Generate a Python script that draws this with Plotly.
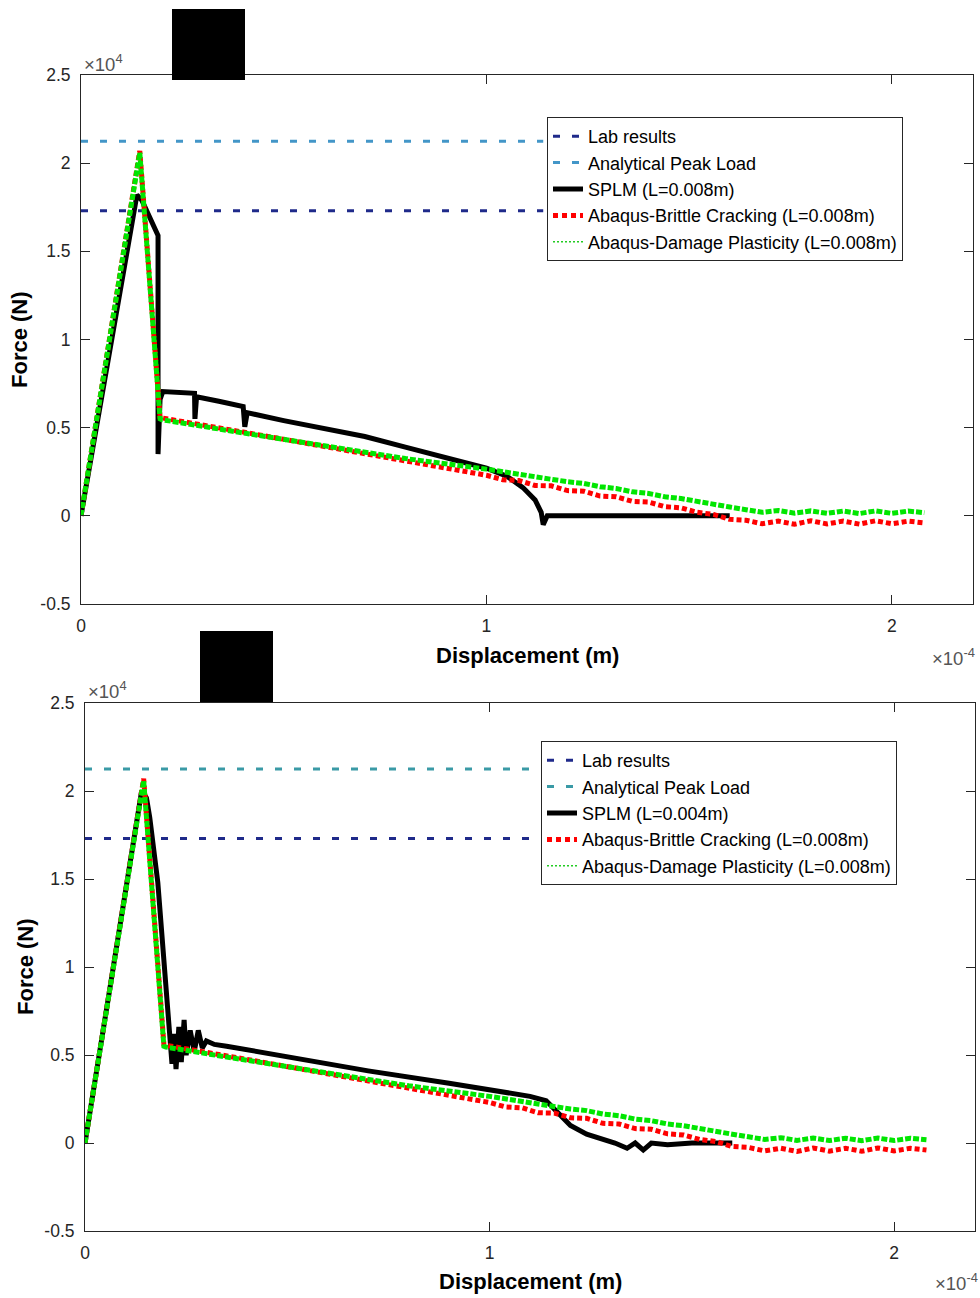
import plotly.graph_objects as go

W, H = 980, 1298

# ---------------- data (x in 1e-4 m, y in 1e4 N) ----------------
lab_load = 1.73            # Lab results peak (x10^4 N)
analytical_load = 2.125    # Analytical peak load (x10^4 N)
ref_line_end_top = 1.14
ref_line_end_bot = 1.12

# SPLM (L=0.008m) - top panel
splm8_x = [0, 0.138, 0.150, 0.163, 0.190, 0.190, 0.195, 0.202, 0.240, 0.280, 0.281, 0.285,
           0.340, 0.400, 0.404, 0.410, 0.500, 0.600, 0.700, 0.800, 0.900, 1.000, 1.050,
           1.090, 1.120, 1.135, 1.140, 1.145, 1.150, 1.300, 1.450, 1.600]
splm8_y = [0, 1.82, 1.79, 1.72, 1.59, 0.35, 0.66, 0.705, 0.700, 0.695, 0.55, 0.675,
           0.650, 0.620, 0.505, 0.585, 0.540, 0.495, 0.450, 0.390, 0.330, 0.270, 0.225,
           0.160, 0.090, 0.020, -0.05, -0.02, 0.0, 0.0, 0.0, 0.0]

# SPLM (L=0.004m) - bottom panel
splm4_x = [0, 0.140, 0.152, 0.160, 0.180, 0.200, 0.212, 0.215, 0.220, 0.225, 0.232, 0.238,
           0.245, 0.250, 0.260, 0.270, 0.280, 0.290, 0.300, 0.320, 0.350, 0.500, 0.700,
           0.900, 1.000, 1.100, 1.140, 1.170, 1.200, 1.240, 1.280, 1.310, 1.340, 1.360,
           1.380, 1.400, 1.440, 1.500, 1.600]
splm4_y = [0, 2.00, 1.96, 1.85, 1.48, 0.91, 0.58, 0.45, 0.62, 0.42, 0.66, 0.46,
           0.70, 0.50, 0.64, 0.52, 0.64, 0.54, 0.58, 0.56, 0.55, 0.49, 0.41,
           0.34, 0.30, 0.265, 0.24, 0.17, 0.10, 0.05, 0.02, 0.0, -0.03, 0.0,
           -0.04, 0.0, -0.01, 0.0, 0.0]

# Abaqus - Brittle Cracking (L=0.008m)
brittle_x = [0, 0.145, 0.195, 0.200, 0.400, 0.600, 0.800, 1.00, 1.04, 1.08, 1.12, 1.16, 1.20,
             1.24, 1.28, 1.32, 1.36, 1.40, 1.44, 1.48, 1.52, 1.56, 1.60, 1.64, 1.68, 1.72,
             1.76, 1.80, 1.84, 1.88, 1.92, 1.96, 2.00, 2.04, 2.08]
brittle_y = [0, 2.07, 0.56, 0.555, 0.475, 0.395, 0.315, 0.230, 0.205, 0.200, 0.172, 0.170, 0.143,
             0.140, 0.112, 0.108, 0.082, 0.078, 0.052, 0.045, 0.020, 0.008, -0.020, -0.025, -0.045, -0.030,
             -0.048, -0.028, -0.046, -0.030, -0.047, -0.028, -0.045, -0.030, -0.040]

# Abaqus - Damage Plasticity (L=0.008m)
damage_x = [0, 0.145, 0.195, 0.200, 0.400, 0.600, 0.800, 1.00, 1.04, 1.08, 1.12, 1.16, 1.20,
            1.24, 1.28, 1.32, 1.36, 1.40, 1.44, 1.48, 1.52, 1.56, 1.60, 1.64, 1.68, 1.72,
            1.76, 1.80, 1.84, 1.88, 1.92, 1.96, 2.00, 2.04, 2.08]
damage_y = [0, 2.06, 0.55, 0.545, 0.470, 0.395, 0.325, 0.265, 0.250, 0.240, 0.222, 0.212, 0.193,
            0.184, 0.165, 0.155, 0.136, 0.127, 0.108, 0.098, 0.080, 0.068, 0.050, 0.035, 0.020, 0.030,
            0.015, 0.028, 0.014, 0.027, 0.013, 0.028, 0.014, 0.027, 0.018]

x_ticks = [0, 1, 2]
x_tick_labels = ["0", "1", "2"]
y_ticks = [-0.5, 0, 0.5, 1, 1.5, 2, 2.5]
y_tick_labels = ["-0.5", "0", "0.5", "1", "1.5", "2", "2.5"]

legend_names_top = ["Lab results", "Analytical Peak Load", "SPLM (L=0.008m)",
                    "Abaqus-Brittle Cracking (L=0.008m)", "Abaqus-Damage Plasticity (L=0.008m)"]
legend_names_bot = ["Lab results", "Analytical Peak Load", "SPLM (L=0.004m)",
                    "Abaqus-Brittle Cracking (L=0.008m)", "Abaqus-Damage Plasticity (L=0.008m)"]

# ---------------- styling ----------------
FONT = "Liberation Sans, Arial, Helvetica, sans-serif"
AX = "#262626"
LAB_C = "#1f2a8a"
ANA_C_TOP = "#4396c8"
ANA_C_BOT = "#3a9aa6"
RED = "#ff0000"
GREEN = "#00e600"


def pxx(x):
    return x / W


def pyy(y):
    return 1 - y / H


fig = go.Figure()


def add_panel(xa, ya, legend_id, names, splm_x, splm_y, line_end, ana_color):
    common = dict(xaxis=xa, yaxis=ya, legend=legend_id, hoverinfo="skip")
    fig.add_trace(go.Scatter(x=[0, line_end], y=[lab_load, lab_load], mode="lines",
                             line=dict(color=LAB_C, width=3, dash="7px,12px"),
                             name=names[0], **common))
    fig.add_trace(go.Scatter(x=[0, line_end], y=[analytical_load, analytical_load], mode="lines",
                             line=dict(color=ana_color, width=3, dash="7px,12px"),
                             name=names[1], **common))
    fig.add_trace(go.Scatter(x=splm_x, y=splm_y, mode="lines",
                             line=dict(color="black", width=5),
                             name=names[2], **common))
    fig.add_trace(go.Scatter(x=brittle_x, y=brittle_y, mode="lines",
                             line=dict(color=RED, width=5, dash="5px,3px"),
                             showlegend=False, **common))
    fig.add_trace(go.Scatter(x=damage_x, y=damage_y, mode="lines",
                             line=dict(color=GREEN, width=5, dash="6px,2px"),
                             showlegend=False, **common))
    fig.add_trace(go.Scatter(x=[None], y=[None], mode="lines",
                             line=dict(color=RED, width=5, dash="5px,4px"),
                             name=names[3], **common))
    fig.add_trace(go.Scatter(x=[None], y=[None], mode="lines",
                             line=dict(color="#22cc22", width=1.5, dash="2px,2px"),
                             name=names[4], **common))


add_panel("x", "y", "legend", legend_names_top, splm8_x, splm8_y, ref_line_end_top, ANA_C_TOP)
add_panel("x2", "y2", "legend2", legend_names_bot, splm4_x, splm4_y, ref_line_end_bot, ANA_C_BOT)

axis_common = dict(showline=True, linecolor=AX, linewidth=1, mirror="ticks", ticks="inside",
                   ticklen=9, tickcolor=AX, showgrid=False, zeroline=False, automargin=False,
                   tickfont=dict(family=FONT, size=17.5, color=AX))

fig.update_layout(
    width=W, height=H,
    margin=dict(l=0, r=0, t=0, b=0, pad=0),
    paper_bgcolor="white", plot_bgcolor="white",
    font=dict(family=FONT),
    xaxis=dict(domain=[pxx(81), pxx(973)], range=[0, 2.2], anchor="y",
               tickvals=x_ticks, ticktext=x_tick_labels, ticklabelstandoff=6, **axis_common),
    yaxis=dict(domain=[pyy(604), pyy(75)], range=[-0.5, 2.5], anchor="x",
               tickvals=y_ticks, ticktext=y_tick_labels, ticklabelstandoff=6, **axis_common),
    xaxis2=dict(domain=[pxx(85), pxx(975)], range=[0, 2.2], anchor="y2",
                tickvals=x_ticks, ticktext=x_tick_labels, ticklabelstandoff=6, **axis_common),
    yaxis2=dict(domain=[pyy(1231), pyy(703)], range=[-0.5, 2.5], anchor="x2",
                tickvals=y_ticks, ticktext=y_tick_labels, ticklabelstandoff=6, **axis_common),
    legend=dict(x=pxx(547), y=pyy(117), xanchor="left", yanchor="top",
                bgcolor="white", bordercolor=AX, borderwidth=1,
                font=dict(family=FONT, size=18, color="black"),
                tracegroupgap=0),
    legend2=dict(x=pxx(541), y=pyy(741), xanchor="left", yanchor="top",
                 bgcolor="white", bordercolor=AX, borderwidth=1,
                 font=dict(family=FONT, size=18, color="black"),
                 tracegroupgap=0),
    showlegend=True,
)

ann = []


def add_text(text, x, y, xanchor="center", yanchor="middle", size=17, angle=0, color="black"):
    ann.append(dict(text=text, x=pxx(x), y=pyy(y), xref="paper", yref="paper",
                    xanchor=xanchor, yanchor=yanchor, showarrow=False, textangle=angle,
                    font=dict(family=FONT, size=size, color=color)))


add_text("×10<sup>4</sup>", 82, 63, xanchor="left", size=18.5, color="#555555")
add_text("×10<sup>-4</sup>", 977, 657, xanchor="right", size=18.5, color="#555555")
add_text("<b>Displacement (m)</b>", 527, 655, size=22)
add_text("<b>Force (N)</b>", 20, 340, size=22, angle=-90)
add_text("×10<sup>4</sup>", 86, 690, xanchor="left", size=18.5, color="#555555")
add_text("×10<sup>-4</sup>", 980, 1282, xanchor="right", size=18.5, color="#555555")
add_text("<b>Displacement (m)</b>", 530, 1281, size=22)
add_text("<b>Force (N)</b>", 25, 967, size=22, angle=-90)

fig.update_layout(annotations=ann)

fig.add_shape(type="rect", xref="paper", yref="paper", x0=pxx(172), x1=pxx(245),
              y0=pyy(80), y1=pyy(9), fillcolor="black", line=dict(width=0), layer="above")
fig.add_shape(type="rect", xref="paper", yref="paper", x0=pxx(200), x1=pxx(273),
              y0=pyy(702), y1=pyy(631), fillcolor="black", line=dict(width=0), layer="above")

fig.write_html("out.html",
               post_script="document.body.style.margin='0';document.body.style.padding='0';")
